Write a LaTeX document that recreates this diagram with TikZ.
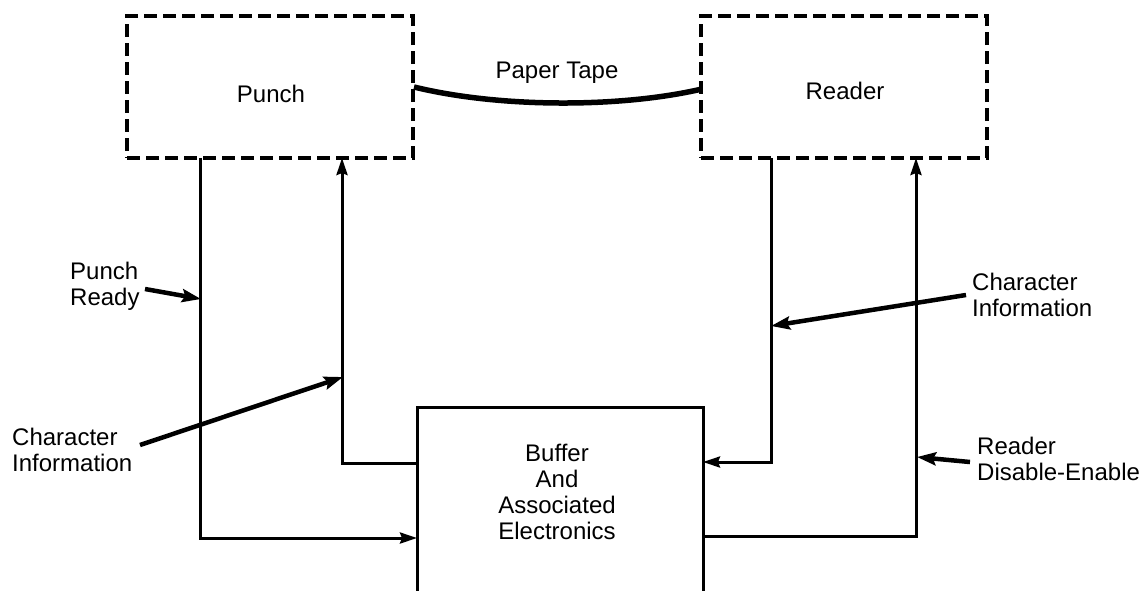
\documentclass[tikz,border=0pt]{standalone}
\usepackage{fontspec}
\setmainfont{Liberation Sans}
\usetikzlibrary{arrows.meta}
\begin{document}
\begin{tikzpicture}[x=1pt,y=-1pt,
  lbl/.style={font=\fontsize{24}{26}\selectfont, inner sep=0pt, align=left},
  dbox/.style={draw, line width=3.4pt, dash pattern=on 13pt off 6pt, minimum width=286pt, minimum height=142pt, inner sep=0pt},
  wire/.style={line width=3pt},
  tipw/.style={wire, -{Stealth[length=17pt,width=11pt,inset=2pt]}},
  pointer/.style={line width=4.5pt, -{Stealth[length=19pt,width=13pt,inset=3pt]}},
  tape/.style={line width=5.5pt},
]
\useasboundingbox (0,0) rectangle (1142,590);

% boxes
\node[dbox] (punch) at (270,87) {};
\node[dbox] (reader) at (844,87) {};
\node[lbl, anchor=base] (punchT) at (271,102) {Punch};
\node[lbl, anchor=base] (readerT) at (845,99) {Reader};

% buffer (open at the bottom)
\coordinate (bufBL) at (417,595);
\coordinate (bufTL) at (417,407);
\coordinate (bufTR) at (703,407);
\coordinate (bufBR) at (703,595);
\draw[line width=3pt] (bufBL) -- (bufTL) -- (bufTR) -- (bufBR);
\node[lbl, align=center, anchor=base] (bufT) at (557,539) {Buffer\\And\\Associated\\Electronics};

% paper tape
\coordinate (tapeA) at (414,87);
\coordinate (tapeB) at (702,89);
\draw[tape] (tapeA) .. controls (500,108) and (620,108) .. (tapeB);
\node[lbl, anchor=base] (tapeT) at (557,78) {Paper Tape};

% wires
\coordinate (pa) at (200,158);
\coordinate (pb) at (342,158);
\coordinate (ra) at (771,158);
\coordinate (rb) at (916,158);
\coordinate (bA) at (417,538);
\coordinate (bB) at (417,463);
\coordinate (bC) at (703,462);
\coordinate (bD) at (703,536);
\draw[tipw] (pa) |- (bA);
\draw[tipw] (bB) -| (pb);
\draw[tipw] (ra) |- (bC);
\draw[tipw] (bD) -| (rb);

% labels (base = baseline of last line)
\node[lbl, anchor=base west] (prT) at (70,305) {Punch\\Ready};
\node[lbl, anchor=base west] (ciL) at (12,471) {Character\\Information};
\node[lbl, anchor=base west] (ciR) at (972,316) {Character\\Information};
\node[lbl, anchor=base west] (rdT) at (977,480) {Reader\\Disable-Enable};

% pointers
\coordinate (prTail) at (145,289);
\coordinate (prHead) at (201,299);
\coordinate (ciLTail) at (140,445);
\coordinate (ciLHead) at (343,377);
\coordinate (ciRTail) at (966,295);
\coordinate (ciRHead) at (771,326);
\coordinate (rdTail) at (970,462);
\coordinate (rdHead) at (917,457);
\draw[pointer] (prTail) -- (prHead);
\draw[pointer] (ciLTail) -- (ciLHead);
\draw[pointer] (ciRTail) -- (ciRHead);
\draw[pointer] (rdTail) -- (rdHead);
\end{tikzpicture}
\end{document}
